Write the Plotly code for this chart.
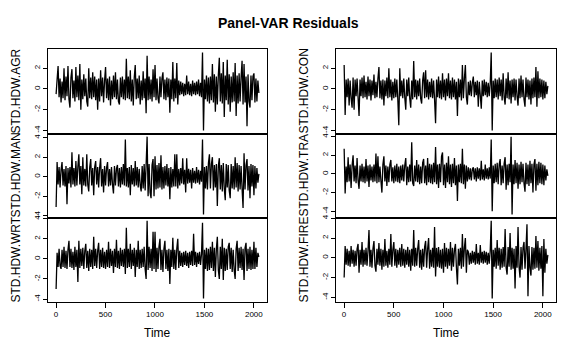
import numpy as np
import plotly.graph_objects as go

# ---- data (residual series, one value every 10 time steps) ----
TIME_STEP = 10
TIME_TICKS = [0, 500, 1000, 1500, 2000]
Y_TICKS = [-4, -2, 0, 2, 4]
TITLE = "Panel-VAR Residuals"
X_LABEL = "Time"

AGR = [-0.5, 0.9, 2.2, -0.8, 1.0, -1.3, 0.7, -0.9, 2.0, -1.1,
       1.2, -0.7, 2.2, -1.0, -1.8, 1.1, 1.9, -0.9, 0.8, -1.2,
       2.1, -0.8, 1.3, -1.1, 2.4, -2.0, 0.9, -1.0, 1.4, -0.7,
       1.0, -1.2, -1.7, 2.0, -0.9, 1.1, -1.0, 1.6, -0.8, 1.2,
       -1.1, 0.9, -2.0, 1.0, -1.2, 1.8, -0.7, 1.1, -1.3, 0.8,
       2.1, -0.9, 1.0, -1.1, 1.2, -1.6, 0.8, -1.0, 1.3, -0.8,
       1.6, -1.0, 0.9, -1.2, -1.5, 1.1, -0.8, 1.2, -1.0, 0.9,
       -1.1, 2.9, -0.9, 1.2, -1.0, 1.8, -1.2, 0.9, -1.6, 1.1,
       2.3, -1.0, 1.0, -0.9, 1.3, -1.5, 0.8, -1.1, 1.7, -0.9,
       1.0, -2.35, 3.2, -1.1, 1.2, -1.0, 0.9, -1.2, 1.9, -0.8,
       2.3, -1.1, 1.0, -0.9, -1.4, 1.2, -0.8, 1.0, 1.6, -1.0,
       0.9, -1.1, 1.1, -0.8, 1.0, -2.3, 0.9, -1.0, 2.6, -1.2,
       1.0, -0.9, 2.5, -1.5, 0.8, -0.6, 0.7, -0.5, 0.6, -0.7,
       0.5, -0.6, 1.3, -0.5, 0.7, -0.6, 0.5, -0.7, 0.8, -0.5,
       0.6, -0.6, 0.7, -0.5, 0.9, -0.7, 0.6, -0.8, 3.5, -4.0,
       0.9, -1.0, 1.3, -1.2, 1.1, -1.4, 1.2, -1.1, 2.4, -1.3,
       1.4, -2.2, 1.2, -1.5, 1.3, 3.0, -1.2, 1.5, -1.4, 2.6,
       -2.7, 1.3, -1.1, 2.8, -1.5, 1.4, -2.2, 1.2, -1.3, 1.6,
       -1.2, 2.5, -2.6, 1.3, -1.4, 1.5, -1.2, 1.1, 2.7, -1.5,
       2.4, -1.3, 1.2, -3.6, 1.4, -1.2, -1.8, 1.3, -1.1, 1.2,
       1.5, -1.3, 1.0, -1.2, 0.8, -0.4]

MAN = [-3.1, 1.5, -0.8, 1.0, -1.1, 0.7, 1.5, -0.9, 0.8, -1.0,
       1.1, -2.8, 0.9, -0.7, 1.0, -1.1, 2.5, -0.8, 0.9, -1.0,
       1.6, -0.9, 1.0, 2.3, -0.8, 1.1, -1.8, 2.0, -0.9, 0.8,
       -1.0, 2.3, -0.8, -1.5, 1.0, 1.8, -0.9, 0.9, -1.9, 1.0,
       1.6, -0.8, 1.0, -1.1, 0.9, 1.9, -1.0, 0.8, -1.6, 1.1,
       -0.9, 0.9, 1.5, -1.0, 0.8, -0.9, 1.0, -0.8, -1.7, 1.1,
       -0.9, 0.8, 1.2, -1.0, 0.9, -1.1, 1.0, -0.8, 1.3, -0.9,
       3.8, -1.0, 0.9, -1.1, 1.0, -1.9, 1.2, -0.8, 0.9, -1.0,
       1.6, -0.9, 1.0, -1.1, 0.8, -0.9, -1.5, 1.1, -1.2, 1.3,
       -1.4, 1.2, 4.1, -2.0, 1.3, -1.6, -2.2, 1.2, 1.8, -2.0,
       2.1, -1.3, 1.2, -1.2, 1.4, -1.1, 2.2, -1.3, 1.0, -1.2,
       1.1, -0.9, 1.3, -1.0, 0.9, -2.3, 1.0, -1.1, 0.8, -1.0,
       2.3, -1.0, 2.3, -1.2, 0.8, -0.9, 0.9, -0.7, 1.9, -0.8,
       0.7, -1.6, 1.9, -0.7, 0.8, -0.6, 0.7, -1.2, 0.9, -0.6,
       0.6, -0.7, 1.0, -0.6, 0.7, -0.8, 0.6, -0.5, 3.8, -3.86,
       1.0, -1.2, 1.1, -1.3, 1.4, 2.3, -1.2, 1.3, 2.0, -1.4,
       1.2, -1.1, 1.3, -3.0, 1.1, 1.9, -1.3, 1.2, -1.5, 1.4,
       -1.2, -2.4, 1.3, -1.1, 1.2, -1.4, -2.2, 1.3, -1.2, 1.1,
       -1.3, 2.0, -1.1, 1.4, -1.5, 1.2, -1.3, 1.1, -1.2, -3.2,
       2.4, -1.3, 1.2, 1.8, -1.4, 1.1, -2.2, 1.3, -1.0, 1.2,
       -1.9, 1.1, -1.2, 0.9, -0.6, 0.3]

WRT = [-3.0, 0.6, -0.8, 1.0, -0.7, -1.0, 0.9, -0.8, 1.2, -0.9,
       0.8, -1.0, 0.9, 1.8, -0.8, 1.0, -0.9, 0.7, -1.1, 1.2,
       -0.8, 0.9, -2.3, 1.8, -0.9, 1.0, -0.7, 1.1, -1.0, 0.8,
       1.5, -0.9, 0.8, -1.2, 1.0, -0.8, 0.9, -1.0, 2.2, -0.7,
       1.0, -0.9, 0.8, 1.6, -1.0, 0.9, -0.8, 1.1, -0.9, 0.7,
       -1.0, 0.9, -0.8, 1.7, -0.9, 1.0, -0.7, 0.8, -1.4, 1.0,
       -0.8, 1.9, -0.9, 0.8, -1.0, 1.1, -0.7, 0.9, -0.8, 1.0,
       -1.5, 3.1, -0.9, 1.0, -0.8, 1.5, -1.0, 0.9, -0.7, 1.1,
       -1.8, 0.9, -0.8, 1.8, -1.0, 0.9, -0.9, 1.0, -0.8, 1.2,
       -1.0, -2.0, 3.8, -1.1, 1.2, -0.9, 1.0, -1.2, 2.7, -1.0,
       2.7, -1.3, 1.1, -1.0, 1.2, 2.0, -1.1, 0.9, -1.3, 1.0,
       1.8, -1.0, 0.9, -1.2, 1.0, -2.5, 0.9, -0.8, 2.1, -1.0,
       0.9, -1.1, 1.0, 2.0, -0.9, 0.8, -0.7, 0.6, -0.8, 0.7,
       -0.6, 0.8, -0.7, 0.6, -0.9, 0.7, -0.6, 0.8, -0.7, 2.5,
       -0.6, 0.7, -0.8, 0.6, -0.5, 0.7, -0.6, 0.5, 3.6, -3.95,
       0.9, -1.0, 1.1, -1.2, 1.0, -1.1, 1.2, -0.9, 1.7, -1.2,
       1.1, -1.8, 1.0, 2.2, -1.1, -2.0, 1.2, -1.0, 2.0, -2.1,
       1.1, -1.2, 1.0, -1.1, 1.2, 1.6, -1.0, 1.1, -1.3, 0.9,
       -1.1, -2.0, 1.0, 1.8, -1.2, 1.1, -0.9, 1.2, -1.1, 1.0,
       -2.1, 1.1, 1.6, -1.2, 1.0, -1.0, 1.2, -1.1, 0.9, -1.0,
       1.7, -1.0, 1.1, -0.8, 0.6, 0.2]

CON = [2.3, -2.5, 0.9, -0.8, 1.0, -1.6, 0.8, -0.9, -1.8, 1.1,
       -2.0, 0.9, -0.7, 1.0, -0.8, -2.6, 0.9, -0.7, 1.1, -0.9,
       1.3, -0.8, 0.7, -1.0, 1.2, -0.7, 0.9, -1.1, 0.8, -0.6,
       1.4, -0.9, 0.7, -0.8, 1.0, 2.1, -0.9, 0.8, -1.0, 0.9,
       -1.6, 0.8, -0.7, 1.1, -0.9, 2.0, -0.8, 0.9, -1.1, 0.7,
       -0.9, 1.0, -0.8, 0.9, -1.0, -3.5, 2.0, -0.7, 0.8, -0.9,
       1.0, -0.8, -2.0, 0.9, -0.7, 1.1, -0.9, -1.8, 0.8, -1.0,
       2.7, -0.8, 0.9, -1.0, 0.8, -0.7, 1.0, -0.9, -1.4, 0.8,
       1.6, -0.9, 1.8, -0.8, 0.9, -1.0, 0.7, -0.8, 1.0, -0.9,
       0.8, -1.0, -3.3, 0.9, -0.8, 1.2, -0.9, 0.8, -1.0, 1.5,
       -0.8, 0.9, -1.1, 1.0, -0.7, 1.5, -0.9, 0.8, -1.0, 1.1,
       -0.8, 0.9, -1.0, 0.7, -2.6, 1.0, -0.8, 0.9, -1.1, 2.3,
       -0.9, 1.0, 2.3, -0.8, -1.5, 0.7, -0.6, 0.8, -0.7, 0.6,
       1.2, -0.8, 0.7, -0.6, 0.8, -1.7, 0.7, -0.6, -1.9, 0.8,
       -0.7, 0.9, -0.6, 0.7, -0.8, 0.6, -0.7, 0.5, 3.5, -3.99,
       0.8, -0.9, 1.0, -0.8, 0.9, -1.0, 1.1, -0.7, 0.9, -1.1,
       1.5, -0.8, -1.5, 1.0, -0.9, 1.6, -1.0, 0.8, -1.4, 0.9,
       -0.8, 1.0, -1.1, 0.9, -0.7, -1.6, 1.0, -0.9, 1.3, -0.8,
       0.9, -1.0, -1.7, 1.1, -0.8, 0.9, -1.0, 0.8, -1.5, 1.0,
       -0.9, 1.1, -0.8, 2.1, -1.7, 1.7, -0.9, 1.0, -0.8, 0.9,
       -1.0, 0.8, -0.9, 0.7, -0.5, 0.3]

TRA = [2.7, -2.1, 0.8, -0.9, 1.8, -0.8, 1.0, -1.5, 0.9, 2.0,
       -0.8, 0.9, -1.0, 1.7, -0.7, -1.6, 0.9, -0.8, 1.1, -0.9,
       0.8, -1.0, 1.6, -0.8, 0.9, -1.4, 1.0, -0.7, 0.8, -0.9,
       1.0, -0.8, 2.2, -1.0, 1.9, -0.9, 0.8, -0.7, -2.0, 1.0,
       1.9, -0.8, 0.9, -1.3, 0.8, -0.9, 1.0, 1.5, -0.8, 0.7,
       -1.0, 0.9, -0.8, 1.1, -0.9, 0.8, -1.0, 0.9, -0.7, 1.0,
       -0.8, 0.9, 1.7, -1.2, 0.8, -0.9, 1.0, -0.8, 3.4, -1.0,
       -1.3, 0.9, -0.8, 1.5, -0.9, 1.0, -1.1, 0.8, -1.0, 1.2,
       1.6, -1.0, 0.9, -1.2, 1.7, -0.9, 1.1, -1.0, 1.0, -1.1,
       1.2, -0.9, 2.9, -1.1, 1.0, -1.5, 1.1, -0.9, 1.9, 2.3,
       -1.2, 1.0, -1.5, 1.2, -0.9, 1.9, -1.1, 1.0, -1.4, 1.1,
       -1.0, 1.7, -1.2, 0.9, -2.9, 1.0, -0.9, 1.1, -1.0, 2.7,
       -1.1, 1.0, -1.6, 0.9, -0.8, 0.7, -0.6, 0.6, -0.7, 0.5,
       0.7, -0.6, 0.6, -0.8, 0.7, -0.5, 0.6, -0.7, 1.4, -0.6,
       0.5, -0.7, 1.0, -0.5, 0.6, -0.6, 0.7, -0.5, 3.7, -4.0,
       0.9, -1.0, 1.1, -0.9, 1.2, -1.1, 1.0, 1.6, -1.2, 0.9,
       -1.0, 1.1, 1.8, -1.7, 1.0, -1.2, 1.1, -0.9, 4.0, -4.35,
       1.0, -1.1, 1.5, -1.0, 1.2, -1.6, 1.0, -1.1, 1.3, -0.9,
       1.1, -1.0, -1.9, 1.2, -1.1, 1.0, -1.3, 1.4, -1.0, 1.1,
       -2.0, 1.0, 1.6, -1.8, 1.1, -1.2, 1.3, -1.0, 1.2, -1.1,
       1.0, -1.2, 0.9, -0.7, 0.5, -0.2]

FIRE = [-2.0, 1.2, -0.7, 0.9, -0.8, 0.7, -0.9, 1.2, -0.6, 0.8,
        -0.9, 0.7, -0.8, 0.9, 1.4, -1.5, 0.8, -0.7, 1.6, -0.9,
        0.8, -0.7, 1.0, -0.8, 0.7, 2.8, -0.9, 0.8, -1.0, 0.9,
        1.7, -0.8, -1.4, 0.9, -0.7, 1.5, -0.8, 0.9, -1.2, 0.8,
        -0.9, 1.9, -0.8, 0.7, -1.0, 0.9, -0.7, 2.4, -0.9, 0.8,
        1.6, -0.8, 0.9, -1.0, 0.8, -0.7, 1.0, -0.9, 1.4, -0.8,
        0.9, -1.0, 0.8, -0.7, 1.1, -0.9, 0.8, -1.3, 0.9, -0.8,
        2.8, -0.9, 1.0, -0.8, 0.9, 1.8, -1.0, 0.8, -1.2, 0.9,
        -0.9, 1.1, 1.7, -1.0, 0.9, 2.0, -1.1, 0.8, -0.9, 1.0,
        -1.0, 3.1, -1.9, 1.0, -0.9, 1.1, -1.0, 0.8, -1.1, 0.9,
        -1.5, 1.5, -0.9, 1.0, -1.1, 0.9, -0.8, 1.6, -1.3, 1.0,
        -0.9, 0.8, 1.4, -1.0, -2.7, 0.9, -0.8, 1.0, -1.1, 2.4,
        -0.9, 1.0, 2.0, -1.5, 0.8, 0.6, -0.7, 0.5, -0.6, 0.7,
        -0.5, 0.6, -0.7, 1.4, -0.6, 0.5, -0.7, 1.3, -0.5, 0.6,
        -0.6, 0.7, -0.5, 0.6, -0.7, 0.5, -0.6, 0.7, 3.75, -4.12,
        0.8, -0.9, 1.0, -1.1, 1.8, -0.8, 1.0, -1.2, 0.9, -1.0,
        1.1, -0.9, 2.9, -1.0, -1.7, 1.1, -0.9, 2.5, -1.2, 1.0,
        -1.1, 0.9, -3.1, 1.2, -1.0, 3.1, -0.9, -2.0, 1.1, -1.2,
        1.0, 1.6, -1.1, 0.9, 3.4, -3.9, 1.2, -1.0, -1.8, 1.1,
        -1.2, 1.0, -1.1, 2.2, -1.0, 1.7, -1.3, 1.0, -1.1, 1.2,
        -3.9, 1.9, -1.5, 0.9, -0.6, 0.3]

# column 1 (top to bottom), column 2 (top to bottom)
PANELS = [
    ("STD.HDW.AGR", AGR), ("STD.HDW.MAN", MAN), ("STD.HDW.WRT", WRT),
    ("STD.HDW.CON", CON), ("STD.HDW.TRA", TRA), ("STD.HDW.FIRE", FIRE),
]

# ---- layout geometry (pixels in a 576x360 canvas) ----
W, H = 576, 360
COL_X = [(48, 267), (336, 556)]
ROW_Y = [(47, 132), (132, 217), (217, 302)]
FONT = "Liberation Sans, Arial, Helvetica, sans-serif"


def px_x(v):
    return v / W


def px_y(v):
    return 1 - v / H


fig = go.Figure()
layout = dict(
    width=W, height=H,
    margin=dict(l=0, r=0, t=0, b=0),
    paper_bgcolor="white", plot_bgcolor="white",
    showlegend=False,
    font=dict(family=FONT, color="black", size=8),
    annotations=[],
)

for k, (name, vals) in enumerate(PANELS):
    col, row = divmod(k, 3)
    n = k + 1
    sfx = "" if n == 1 else str(n)
    t = 1 + TIME_STEP * np.arange(len(vals))
    v = np.array(vals, dtype=float)

    fig.add_trace(go.Scatter(
        x=t, y=v, mode="lines",
        line=dict(color="black", width=1.3, simplify=False),
        xaxis="x" + sfx, yaxis="y" + sfx,
        hoverinfo="skip", showlegend=False,
    ))

    d = t.max() - t.min()
    xr = [t.min() - 0.04 * d, t.max() + 0.04 * d]
    dy = v.max() - v.min()
    yr = [v.min() - 0.04 * dy, v.max() + 0.04 * dy]

    x0, x1 = COL_X[col]
    y0, y1 = ROW_Y[row]
    bottom = row == 2

    layout["xaxis" + sfx] = dict(
        domain=[px_x(x0), px_x(x1)], range=xr, anchor="y" + sfx,
        showline=True, mirror=True, linecolor="black", linewidth=1,
        showgrid=False, zeroline=False,
        tickvals=TIME_TICKS, ticktext=[str(v_) for v_ in TIME_TICKS],
        ticks="outside" if bottom else "", ticklen=5, tickcolor="black",
        showticklabels=bottom, tickfont=dict(size=8, family=FONT, color="black"),
        fixedrange=True,
    )
    layout["yaxis" + sfx] = dict(
        domain=[px_y(y1), px_y(y0)], range=yr, anchor="x" + sfx,
        showline=True, mirror=True, linecolor="black", linewidth=1,
        showgrid=False, zeroline=False,
        tickvals=Y_TICKS, ticktext=[str(v_) for v_ in Y_TICKS],
        ticks="outside", ticklen=4, tickcolor="black", tickangle=-90,
        tickfont=dict(size=8, family=FONT, color="black"),
        fixedrange=True,
    )

    # series label (rotated) to the left of each panel
    layout["annotations"].append(dict(
        text=name, textangle=-90, showarrow=False,
        xref="paper", yref="paper",
        x=px_x(x0 - 32), y=px_y((y0 + y1) / 2),
        xanchor="center", yanchor="middle",
        font=dict(size=12, family=FONT, color="black"),
    ))

# x-axis titles
for (x0, x1) in COL_X:
    layout["annotations"].append(dict(
        text=X_LABEL, showarrow=False, xref="paper", yref="paper",
        x=px_x((x0 + x1) / 2), y=px_y(334),
        xanchor="center", yanchor="middle",
        font=dict(size=12, family=FONT, color="black"),
    ))

# main title
layout["annotations"].append(dict(
    text="<b>" + TITLE + "</b>", showarrow=False, xref="paper", yref="paper",
    x=0.5, y=px_y(20), xanchor="center", yanchor="middle",
    font=dict(size=14, family=FONT, color="black"),
))

fig.update_layout(**layout)
fig.write_html(
    "out.html",
    config={"displayModeBar": False, "staticPlot": True},
    post_script="document.body.style.margin='0';document.body.style.overflow='hidden';",
)
